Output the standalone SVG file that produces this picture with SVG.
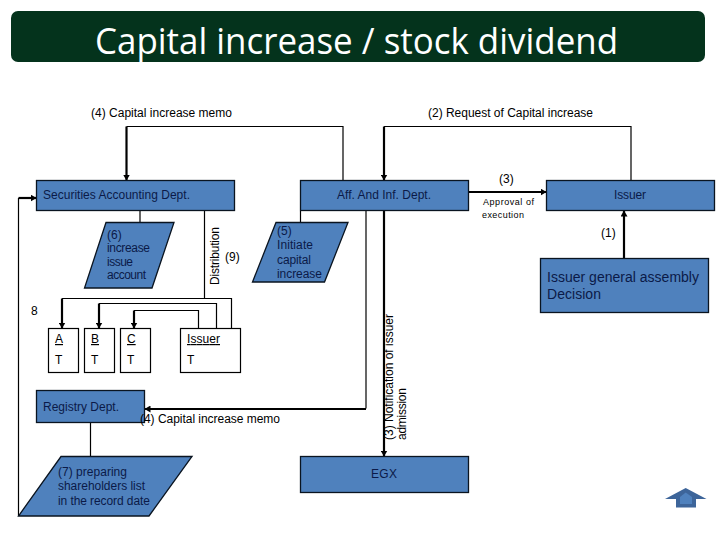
<svg xmlns="http://www.w3.org/2000/svg" width="720" height="540" viewBox="0 0 720 540">
<style>
text{font-family:"Liberation Sans",Arial,sans-serif;font-size:12px;fill:#000}
.d{fill:#0b1a48}
.big{font-size:14px}
.small{font-size:9px}
.title{font-family:"Open Sans","Noto Sans",sans-serif;font-size:37px;fill:#fff}
.shape{fill:#4f81bd;stroke:#0a1420;stroke-width:1.3}
.box{fill:#fff;stroke:#000;stroke-width:1.2}
.thin{fill:none;stroke:#000;stroke-width:1.2}
.thick{fill:none;stroke:#000;stroke-width:2.2}
</style>
<defs>
<marker id="a" markerUnits="userSpaceOnUse" markerWidth="6" markerHeight="7" refX="5.500" refY="3.500" orient="auto"><path d="M0 0L6 3.500L0 7Z" fill="#000"/></marker>
</defs>
<rect width="720" height="540" fill="#fff"/>
<g id="title"><rect x="11" y="11" width="694" height="51" rx="7" fill="#04331c"/><text class="title" x="95" y="54" textLength="523" lengthAdjust="spacingAndGlyphs">Capital increase / stock dividend</text></g>
<g id="connectors">
<path class="thin" d="M343 180V126.500H126.500"/><path class="thick" d="M126.500 126.500V180" marker-end="url(#a)"/>
<path class="thin" d="M631 180V126.500H384"/><path class="thick" d="M384 126.500V180" marker-end="url(#a)"/>
<path class="thick" d="M469 192H546" marker-end="url(#a)"/>
<path class="thick" d="M624 258V211" marker-end="url(#a)"/>
<path class="thick" d="M384 211V456" marker-end="url(#a)"/>
<path class="thin" d="M366 211V408.500"/><path class="thick" d="M366 409H145" marker-end="url(#a)"/>
<path class="thin" d="M140 211V222M300.500 211V222M90.500 422V456"/>
<path class="thin" d="M204.500 211V298.500M231.500 328V298.500H62"/><path class="thick" d="M62 298.500V328" marker-end="url(#a)"/>
<path class="thin" d="M216.500 328V303.500H99"/><path class="thick" d="M99 303.500V328" marker-end="url(#a)"/>
<path class="thin" d="M198.500 328V310.500H134"/><path class="thick" d="M134 310.500V328" marker-end="url(#a)"/>
<path class="thin" d="M18.500 516V198"/><path class="thick" d="M18.500 198H36" marker-end="url(#a)"/>
</g>
<g id="securities"><rect class="shape" x="36.500" y="180.500" width="198" height="30"/><text class="d" x="43" y="199" textLength="147">Securities Accounting Dept.</text></g>
<g id="aff"><rect class="shape" x="300.500" y="180.500" width="168" height="30"/><text class="d" x="337" y="199" textLength="94">Aff. And Inf. Dept.</text></g>
<g id="issuer"><rect class="shape" x="546.500" y="180.500" width="168" height="30"/><text class="d" x="614" y="199" textLength="32">Issuer</text></g>
<g id="assembly"><rect class="shape" x="540.500" y="258.500" width="168" height="54"/><text class="d big" x="547" y="282" textLength="152">Issuer general assembly</text><text class="d big" x="547" y="299" textLength="54">Decision</text></g>
<g id="egx"><rect class="shape" x="300.500" y="456.500" width="168" height="36"/><text class="d" x="371" y="478" textLength="26">EGX</text></g>
<g id="registry"><rect class="shape" x="36.500" y="390.500" width="108" height="32"/><text class="d" x="43" y="411" textLength="76">Registry Dept.</text></g>
<g id="step6"><path class="shape" d="M106 222.500H174L152 288H84.500Z"/><text class="d" x="107" y="239">(6)</text><text class="d" x="107" y="252" textLength="43">increase</text><text class="d" x="107" y="266" textLength="26">issue</text><text class="d" x="107" y="279" textLength="39">account</text></g>
<g id="step5"><path class="shape" d="M276 222.500H348L324.500 282H252.500Z"/><text class="d" x="277" y="235">(5)</text><text class="d" x="277" y="249" textLength="36">Initiate</text><text class="d" x="277" y="264" textLength="34">capital</text><text class="d" x="277" y="278" textLength="45">increase</text></g>
<g id="step7"><path class="shape" d="M61 456.500H192L149 516H18.500Z"/><text class="d" x="58" y="476" textLength="69">(7) preparing</text><text class="d" x="58" y="490" textLength="87">shareholders list</text><text class="d" x="58" y="505" textLength="92">in the record date</text></g>
<g id="holderA"><rect class="box" x="48.500" y="328.500" width="30" height="44"/><text x="55" y="343" text-decoration="underline">A</text><text x="55" y="364">T</text></g>
<g id="holderB"><rect class="box" x="84.500" y="328.500" width="30" height="44"/><text x="91" y="343" text-decoration="underline">B</text><text x="91" y="364">T</text></g>
<g id="holderC"><rect class="box" x="120.500" y="328.500" width="30" height="44"/><text x="127" y="343" text-decoration="underline">C</text><text x="127" y="364">T</text></g>
<g id="holderIssuer"><rect class="box" x="180.500" y="328.500" width="60" height="44"/><text x="187" y="343" text-decoration="underline" textLength="33">Issuer</text><text x="187" y="364">T</text></g>
<g id="home"><path d="M685.700 488L706.500 499H696V507.500H676V499H665Z" fill="#3d659a"/><path d="M680 497L685.700 492.500L692 497V504H680Z" fill="#4f81bd"/></g>
<g id="labels">
<text x="91" y="117" textLength="141">(4) Capital increase memo</text>
<text x="428" y="117" textLength="165">(2) Request of Capital increase</text>
<text x="499" y="183">(3)</text>
<text class="small" x="483" y="205" textLength="51">Approval of</text>
<text class="small" x="482" y="218" textLength="42">execution</text>
<text x="601" y="237">(1)</text>
<text x="225" y="261">(9)</text>
<text x="31" y="315">8</text>
<text x="140" y="423" textLength="140">(4) Capital increase memo</text>
<text transform="translate(219 285) rotate(-90)" textLength="58">Distribution</text>
<text transform="translate(393 440) rotate(-90)" textLength="126">(3) Notification of issuer</text>
<text transform="translate(406 440) rotate(-90)" textLength="52">admission</text>
</g>
</svg>
